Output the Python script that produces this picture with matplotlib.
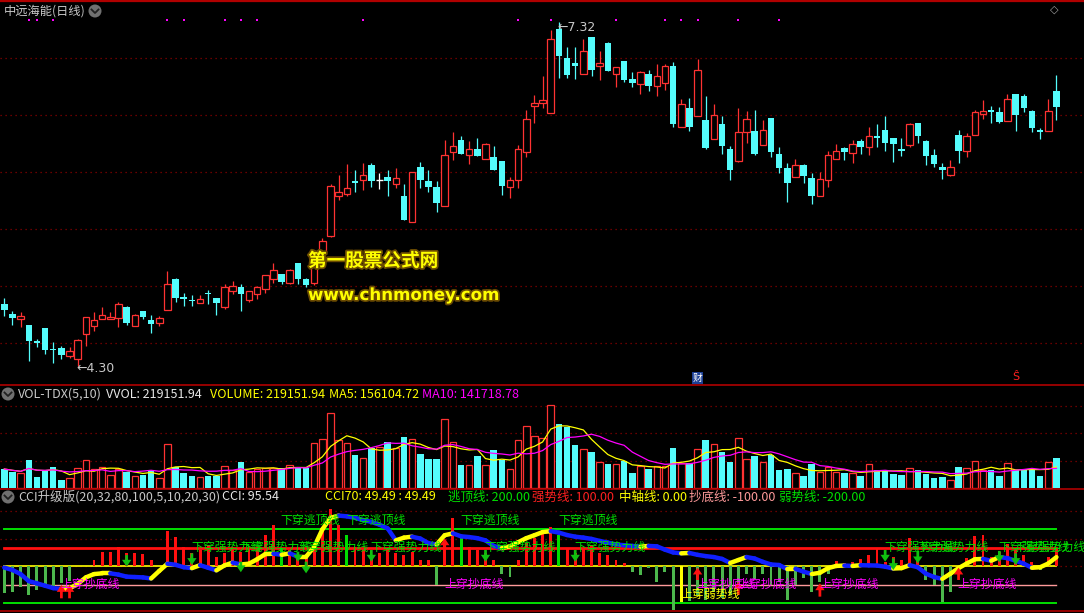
import numpy as np
import pandas as pd
import matplotlib
matplotlib.use('Agg')
import matplotlib.pyplot as plt
from matplotlib.collections import LineCollection
import matplotlib.patheffects as pe
from matplotlib.lines import Line2D
from matplotlib.patches import Ellipse
import matplotlib.transforms as mtransforms

plt.rcParams['font.family'] = ['Noto Sans CJK SC', 'DejaVu Sans']

W, H = 1084, 613

# ---------------- data ----------------
open_ = [4.84, 4.76, 4.71, 4.66, 4.52, 4.63, 4.45, 4.46, 4.39, 4.36,
         4.58, 4.65, 4.71, 4.71, 4.72, 4.82, 4.65, 4.78, 4.70, 4.68,
         4.79, 5.06, 4.90, 4.88, 4.85, 4.94, 4.90, 4.82, 4.96, 4.99,
         4.88, 4.93, 4.98, 5.06, 5.11, 5.03, 5.20, 5.06, 5.03, 5.29,
         5.44, 5.79, 5.81, 5.92, 5.93, 6.06, 5.93, 5.96, 5.90, 5.79,
         5.56, 6.05, 5.92, 5.87, 5.70, 6.18, 6.28, 6.15, 6.20, 6.12,
         6.13, 6.10, 5.87, 5.93, 6.18, 6.58, 6.61, 6.52, 7.26, 7.00,
         6.96, 6.86, 7.19, 6.93, 7.13, 6.86, 6.98, 6.82, 6.77, 6.86,
         6.76, 6.78, 6.93, 6.40, 6.56, 6.49, 6.46, 6.29, 6.42, 6.20,
         6.10, 6.35, 6.36, 6.24, 6.48, 6.16, 6.04, 5.96, 6.06, 5.95,
         5.79, 5.93, 6.12, 6.21, 6.17, 6.27, 6.22, 6.32, 6.37, 6.30,
         6.20, 6.24, 6.43, 6.27, 6.15, 6.05, 5.98, 6.33, 6.19, 6.33,
         6.51, 6.55, 6.53, 6.45, 6.69, 6.67, 6.54, 6.37, 6.36, 6.71]
high = [4.90, 4.78, 4.77, 4.66, 4.54, 4.63, 4.51, 4.48, 4.47, 4.54,
        4.73, 4.77, 4.82, 4.77, 4.86, 4.83, 4.76, 4.78, 4.75, 4.74,
        5.13, 5.07, 4.94, 4.92, 4.92, 4.97, 4.90, 5.02, 5.05, 5.02,
        4.96, 5.00, 5.10, 5.20, 5.11, 5.15, 5.20, 5.07, 5.32, 5.42,
        5.90, 5.98, 6.07, 6.02, 6.08, 6.08, 5.99, 6.02, 6.04, 5.90,
        6.00, 6.09, 6.02, 5.92, 6.28, 6.35, 6.32, 6.27, 6.30, 6.26,
        6.23, 6.10, 5.96, 6.24, 6.55, 6.68, 6.84, 7.25, 7.32, 7.10,
        7.10, 7.17, 7.19, 7.06, 7.14, 6.92, 6.98, 6.88, 6.89, 6.90,
        6.95, 6.95, 6.97, 6.64, 6.65, 6.99, 6.67, 6.60, 6.49, 6.23,
        6.56, 6.54, 6.55, 6.46, 6.48, 6.22, 6.08, 6.12, 6.07, 5.99,
        6.00, 6.19, 6.25, 6.22, 6.28, 6.29, 6.40, 6.42, 6.49, 6.30,
        6.30, 6.43, 6.43, 6.28, 6.20, 6.08, 6.11, 6.37, 6.34, 6.55,
        6.63, 6.58, 6.57, 6.69, 6.69, 6.69, 6.55, 6.39, 6.64, 6.85]
low = [4.74, 4.66, 4.64, 4.34, 4.47, 4.41, 4.33, 4.36, 4.37, 4.30,
       4.48, 4.61, 4.71, 4.71, 4.64, 4.66, 4.65, 4.71, 4.59, 4.65,
       4.79, 4.86, 4.83, 4.83, 4.85, 4.84, 4.75, 4.80, 4.93, 4.78,
       4.86, 4.89, 4.94, 5.03, 5.02, 5.02, 5.02, 4.99, 5.01, 5.29,
       5.43, 5.76, 5.79, 5.83, 5.84, 5.87, 5.85, 5.79, 5.86, 5.58,
       5.56, 5.86, 5.83, 5.65, 5.70, 6.11, 6.16, 6.07, 6.14, 6.12,
       6.02, 5.80, 5.77, 5.86, 6.13, 6.43, 6.56, 6.52, 6.83, 6.83,
       6.82, 6.86, 6.84, 6.81, 6.89, 6.75, 6.79, 6.75, 6.69, 6.71,
       6.67, 6.72, 6.40, 6.40, 6.36, 6.49, 6.20, 6.29, 6.16, 5.93,
       6.09, 6.26, 6.15, 6.24, 6.13, 5.99, 5.74, 5.96, 5.91, 5.72,
       5.79, 5.87, 6.12, 6.11, 6.08, 6.16, 6.15, 6.22, 6.19, 6.09,
       6.14, 6.22, 6.26, 6.06, 6.05, 5.94, 5.97, 6.08, 6.13, 6.33,
       6.47, 6.43, 6.43, 6.45, 6.36, 6.53, 6.35, 6.29, 6.36, 6.46]
close = [4.79, 4.72, 4.74, 4.52, 4.50, 4.44, 4.44, 4.40, 4.43, 4.53,
         4.73, 4.70, 4.75, 4.73, 4.84, 4.68, 4.75, 4.73, 4.67, 4.72,
         5.02, 4.90, 4.89, 4.87, 4.89, 4.93, 4.85, 4.99, 5.00, 4.93,
         4.96, 4.99, 5.10, 5.14, 5.04, 5.14, 5.06, 5.01, 5.17, 5.40,
         5.88, 5.83, 5.86, 5.91, 5.98, 5.92, 5.93, 5.92, 5.95, 5.58,
         6.00, 5.93, 5.87, 5.73, 6.15, 6.23, 6.16, 6.20, 6.14, 6.25,
         6.02, 5.88, 5.93, 6.20, 6.47, 6.61, 6.63, 7.17, 7.02, 6.85,
         6.93, 7.06, 6.90, 6.96, 6.89, 6.92, 6.81, 6.78, 6.88, 6.76,
         6.84, 6.93, 6.42, 6.60, 6.40, 6.90, 6.21, 6.50, 6.23, 6.02,
         6.35, 6.47, 6.16, 6.37, 6.18, 6.04, 5.91, 6.06, 5.97, 5.79,
         5.94, 6.15, 6.19, 6.18, 6.25, 6.22, 6.32, 6.30, 6.26, 6.25,
         6.19, 6.42, 6.32, 6.14, 6.07, 6.02, 6.05, 6.19, 6.32, 6.53,
         6.54, 6.53, 6.44, 6.64, 6.50, 6.56, 6.39, 6.35, 6.54, 6.57]
volume = [138800, 119300, 107100, 204500, 80400, 124200, 153400, 58400, 70600, 143700,
          202100, 136400, 151000, 92500, 136400, 119300, 85200, 97400, 129100, 70600,
          321400, 151000, 112000, 87700, 77900, 90100, 90100, 158300, 133900, 192400,
          114400, 136400, 146100, 148500, 143700, 168000, 143700, 143700, 326300, 358000,
          545400, 350600, 326300, 241100, 219200, 289800, 301900, 336000, 289800, 372600,
          355500, 248400, 211800, 214300, 501600, 336000, 168000, 168000, 233800, 168000,
          277600, 204500, 136400, 348200, 452900, 379900, 362800, 606300, 467500, 448000,
          314100, 282500, 263000, 187500, 175300, 175300, 197200, 109600, 160700, 138800,
          160700, 160700, 292200, 185100, 185100, 282500, 350600, 319000, 263000, 189900,
          362800, 209400, 233800, 189900, 241100, 131500, 138800, 107100, 87700, 175300,
          119300, 151000, 114400, 109600, 107100, 87700, 172900, 131500, 126600, 102300,
          95000, 143700, 131500, 102300, 75500, 80400, 58400, 153400, 143700, 197200,
          131500, 131500, 87700, 180200, 131500, 139000, 136000, 84500, 191800, 219151.94]
vol_ma5_last = 156104.72
vol_ma10_last = 141718.78
cci70 = [-7, -20, -42, -80, -92, -105, -118, -122, -120, -95,
         -60, -42, -38, -38, -45, -56, -58, -60, -66, -25,
         14, 8, -5, -10, 6, -8, -22, 5, 20, 10,
         14, 38, 66, 68, 62, 70, 52, 52, 105, 200,
         262, 274, 270, 262, 250, 240, 225, 205, 140, 155,
         160, 150, 125, 118, 168, 178, 162, 158, 152, 140,
         110, 98, 108, 130, 152, 168, 185, 190, 182, 169,
         160, 155, 148, 137, 128, 118, 114, 110, 106, 110,
         108, 90, 75, 70, 72, 62, 55, 50, 40, 18,
         34, 50, 42, 24, 10, 7, -15, -14, -29, -42,
         -35, -10, 2, 4, 2, 6, 5, 4, -2, -12,
         -10, 6, -5, -40, -58, -68, -40, -10, 15, 38,
         40, 30, 50, 44, 30, 14, -8, -5, 15, 49.49]
cci = [-146, -140, -110, -155, -128, -101, -110, -92, -79, 0,
       0, 34, 79, 79, 106, 70, 70, 65, 34, 0,
       193, 160, 106, 70, 88, 115, 52, 70, 106, 79,
       97, 106, 169, 223, 97, 88, 61, 52, 97, 196,
       310, 223, 169, 106, 97, 43, 70, 97, 70, 61,
       79, 34, 34, -101, 142, 259, 169, 106, 88, 70,
       34, -43, -56, 34, 124, 151, 187, 214, 169, 97,
       70, 97, 115, 70, 61, 34, 16, -29, -47, -11,
       -83, -32, -236, -194, -187, -155, -182, -137, -173, -155,
       -101, -43, -70, -43, -101, -83, -182, -101, -65, -137,
       -83, -40, 29, 16, 25, 40, 61, 101, 25, 52,
       34, 151, 52, -74, -101, -191, -137, -5, 43, 166,
       169, 52, 79, 119, 88, 61, 25, -20, 52, 95.54]
green_up_idx = [34, 42, 56, 68]
yellow_bar_idx = [83]
level_values = [200, 100, 0, -100, -200]

escape_idx = [34, 42, 56, 68]
strong_idx = [23, 29, 36, 45, 59, 70, 108, 112, 122, 124]
bottom_idx = [7, 54, 85, 90, 100, 117]
weak_idx = [83]

up_arrow_idx = [7, 8, 54, 85, 90, 100, 117]
up_arrow_head = [-101, -101, 151, -7, -83, -92, -7]
up_arrow_tail = [-173, -173, 88, -74, -155, -164, -74]
down_arrow_idx = [15, 23, 29, 36, 37, 45, 59, 70, 108, 109, 112, 122, 124]
down_arrow_tail = [61, 70, 25, 79, 25, 88, 88, 88, 88, 43, 83, 83, 70]
down_arrow_head = [-2, 7, -32, 25, -38, 25, 25, 25, 25, -20, 16, 22, 7]

dot_idx = [3, 4, 6, 20, 22, 27, 29, 31, 44, 63, 67, 75, 81, 83, 85, 90, 95]
price_grid = [4.5, 5.0, 5.5, 6.0, 6.5, 7.0]
vol_grid = [200000, 400000, 600000]
cci_grid = [150, 300]

# ---------------- style ----------------
RED = '#FF3232'
CYAN = '#54FCFC'
YEL = '#FFFF00'
MAG = '#FF00FF'
GRN = '#00E000'
BLUE = '#1020FF'
PINK = '#FF9A9A'
GRID = '#8B0000'
GRAY = '#C8C8C8'

o = np.array(open_); h = np.array(high); l = np.array(low); c = np.array(close)
v = np.array(volume); n = len(o); x = np.arange(n)

fig = plt.figure(figsize=(W / 100, H / 100), dpi=100, facecolor='black')

def rect(top, bot):
    return [0, 1 - bot / H, 1, (bot - top) / H]

ax_m = fig.add_axes(rect(2, 385))
ax_v = fig.add_axes(rect(385, 489))
ax_c = fig.add_axes(rect(489, 611))
xlim = (-0.527, 132.38)
for ax in (ax_m, ax_v, ax_c):
    ax.set_facecolor('black')
    ax.set_xlim(*xlim)
    ax.axis('off')
ax_m.set_ylim(4.1338, 7.4935)
ax_v.set_ylim(-7300, 751900)
ax_c.set_ylim(-241.6, 417.8)

dotted = (0, (1, 3))
for g in price_grid:
    ax_m.axhline(g, color=GRID, lw=0.9, ls=dotted, zorder=0)
for g in vol_grid:
    ax_v.axhline(g, color=GRID, lw=0.9, ls=dotted, zorder=0)
for g in cci_grid + [0]:
    ax_c.axhline(g, color=GRID, lw=0.9, ls=dotted, zorder=0)

# ---------------- candles ----------------
up = c > o
dn = c < o
fl = c == o
wick_col = np.where(up, RED, np.where(dn, CYAN, '#FFFFFF'))
ax_m.vlines(x, l, h, colors=wick_col, lw=0.9, zorder=2)
bw = 0.8
bot = np.minimum(o, c)
hgt = np.maximum(np.abs(c - o), 0.012)
ax_m.bar(x[up], hgt[up], bottom=bot[up], width=bw, facecolor='black',
         edgecolor=RED, lw=0.9, zorder=3)
ax_m.bar(x[dn], hgt[dn], bottom=bot[dn], width=bw, color=CYAN, lw=0, zorder=3)
ax_m.hlines(c[fl], x[fl] - bw / 2, x[fl] + bw / 2, colors='#FFFFFF', lw=1, zorder=3)

imax = int(np.argmax(h)); imin = int(np.argmin(l))
ax_m.text(imax - 0.2, h[imax] - 0.05, '\u2190' + f'{h[imax]:.2f}', color=GRAY, fontsize=9,
          family='DejaVu Sans', va='center', ha='left', zorder=6)
ax_m.text(imin - 0.1, l[imin] - 0.02, '\u2190' + f'{l[imin]:.2f}', color=GRAY, fontsize=9,
          family='DejaVu Sans', va='center', ha='left', zorder=6)

tr_m = mtransforms.blended_transform_factory(ax_m.transData, ax_m.transAxes)
ax_m.scatter(dot_idx, [1 - 18 / 383] * len(dot_idx), marker='s', s=3, color=MAG,
             transform=tr_m, lw=0, zorder=5)
ax_m.text(85, 0.018, '财', transform=tr_m, color='white', fontsize=7, ha='center',
          va='center', bbox=dict(boxstyle='square,pad=0.1', fc='#1c3f94', ec='none'))
ax_m.text(124, 0.02, 'Ŝ', transform=tr_m, color='#FF2020', fontsize=8, ha='center',
          va='center', family='DejaVu Sans')

# ---------------- volume ----------------
ax_v.bar(x[~dn], v[~dn], width=bw, facecolor='black', edgecolor=RED, lw=0.9, zorder=2)
ax_v.bar(x[dn], v[dn], width=bw, color=CYAN, lw=0, zorder=2)
ma5 = pd.Series(v).rolling(5, min_periods=1).mean()
ma10 = pd.Series(v).rolling(10, min_periods=1).mean()
ax_v.plot(x, ma5, color=YEL, lw=0.9, zorder=3)
ax_v.plot(x, ma10, color=MAG, lw=0.9, zorder=3)

# ---------------- CCI panel ----------------
lv_col = [GRN, '#FF1010', YEL, PINK, GRN]
lv_lw = [1.4, 2.0, 1.2, 1.0, 1.4]
for val, col, lw in zip(level_values, lv_col, lv_lw):
    ax_c.plot([0, n - 1], [val, val], color=col, lw=lw, zorder=1)

ci = np.array(cci, dtype=float)
hcol = []
for i in range(n):
    if i in yellow_bar_idx:
        hcol.append(YEL)
    elif i in green_up_idx:
        hcol.append('#00DD00')
    elif ci[i] < 0:
        hcol.append('#4CB84C')
    else:
        hcol.append('#FF1010')
ax_c.bar(x, ci, width=0.36, color=hcol, lw=0, zorder=2)

cv = np.array(cci70, dtype=float)
pts = np.column_stack([x, cv])
segs = np.stack([pts[:-1], pts[1:]], axis=1)
scol = [YEL if cv[i + 1] >= cv[i] else BLUE for i in range(n - 1)]
ax_c.add_collection(LineCollection(segs, colors=scol, linewidths=3.2,
                                   capstyle='round', zorder=5))

astyle = 'simple,head_length=0.55,head_width=0.75,tail_width=0.22'
for i, hd, tl in zip(up_arrow_idx, up_arrow_head, up_arrow_tail):
    ax_c.annotate('', xy=(i, hd), xytext=(i, tl),
                  arrowprops=dict(arrowstyle=astyle, color='#FF1010', lw=0,
                                  mutation_scale=9, shrinkA=0, shrinkB=0), zorder=6)
for i, hd, tl in zip(down_arrow_idx, down_arrow_head, down_arrow_tail):
    ax_c.annotate('', xy=(i, hd), xytext=(i, tl),
                  arrowprops=dict(arrowstyle=astyle, color='#10C010', lw=0,
                                  mutation_scale=9, shrinkA=0, shrinkB=0), zorder=6)

lab_fs = 8.6
for i in escape_idx:
    ax_c.text(i - 0.1, 250, '下穿逃顶线', color=GRN, fontsize=lab_fs, va='center', ha='left', zorder=7)
for i in strong_idx:
    ax_c.text(i - 0.1, 100, '下穿强势力线', color=GRN, fontsize=lab_fs, va='center', ha='left', zorder=7)
for i in bottom_idx:
    ax_c.text(i - 0.1, -100, '上穿抄底线', color=MAG, fontsize=lab_fs, va='center', ha='left', zorder=7)
for i in weak_idx:
    ax_c.text(i - 0.1, -150, '上穿弱势线', color=YEL, fontsize=lab_fs, va='center', ha='left', zorder=7)

# ---------------- titles / decorations ----------------
def ft(px, py, s, col, fs=9, **kw):
    fig.text(px / W, 1 - py / H, s, color=col, fontsize=fs, va='center', ha='left', **kw)

def icon(px, py):
    fig.add_artist(Ellipse((px / W, 1 - py / H), 13 / W, 13 / H, transform=fig.transFigure,
                           fc='#707070', ec='none'))
    xs = [(px - 3.5) / W, px / W, (px + 3.5) / W]
    ys = [1 - (py - 1.5) / H, 1 - (py + 2) / H, 1 - (py - 1.5) / H]
    fig.add_artist(Line2D(xs, ys, color='#202020', lw=1.3, transform=fig.transFigure))

ft(4, 11, '中远海能(日线)', GRAY, 8.8)
icon(95, 11)
ft(1050, 10, '◇', '#A0A0A0', 8, family='DejaVu Sans')

icon(8, 394)
ft(18, 394, 'VOL-TDX(5,10)', GRAY)
ft(106, 394, f'VVOL: {volume[-1]:.2f}', '#E8E8E8')
ft(210, 394, f'VOLUME: {volume[-1]:.2f}', YEL)
ft(329, 394, f'MA5: {vol_ma5_last:.2f}', YEL)
ft(422, 394, f'MA10: {vol_ma10_last:.2f}', MAG)

icon(8, 497)
ft(18, 497, 'CCI升级版(20,32,80,100,5,10,20,30)', GRAY)
ft(222, 497, f'CCI: {cci[-1]:.2f}', '#E8E8E8')
ft(325, 497, f'CCI70: {cci70[-1]:.2f} : {cci70[-1]:.2f}', YEL)
ft(448, 497, '逃顶线: 200.00', GRN)
ft(532, 497, '强势线: 100.00', '#FF2020')
ft(619, 497, '中轴线: 0.00', YEL)
ft(689, 497, '抄底线: -100.00', PINK)
ft(779, 497, '弱势线: -200.00', GRN)

stroke = [pe.withStroke(linewidth=2.5, foreground='#6A4A00')]
ft(308, 261, '第一股票公式网', YEL, 13.4, fontweight='bold', path_effects=stroke)
ft(308, 295, 'www.chnmoney.com', YEL, 12, fontweight='bold', family='DejaVu Sans',
   path_effects=stroke)

for py, lw in ((1, 1.6), (385, 1.2), (489, 1.2), (611, 1.2)):
    fig.add_artist(Line2D([0, 1], [1 - py / H, 1 - py / H], color='#B00000', lw=lw,
                          transform=fig.transFigure))

fig.savefig('out.png', dpi=100, facecolor='black')
